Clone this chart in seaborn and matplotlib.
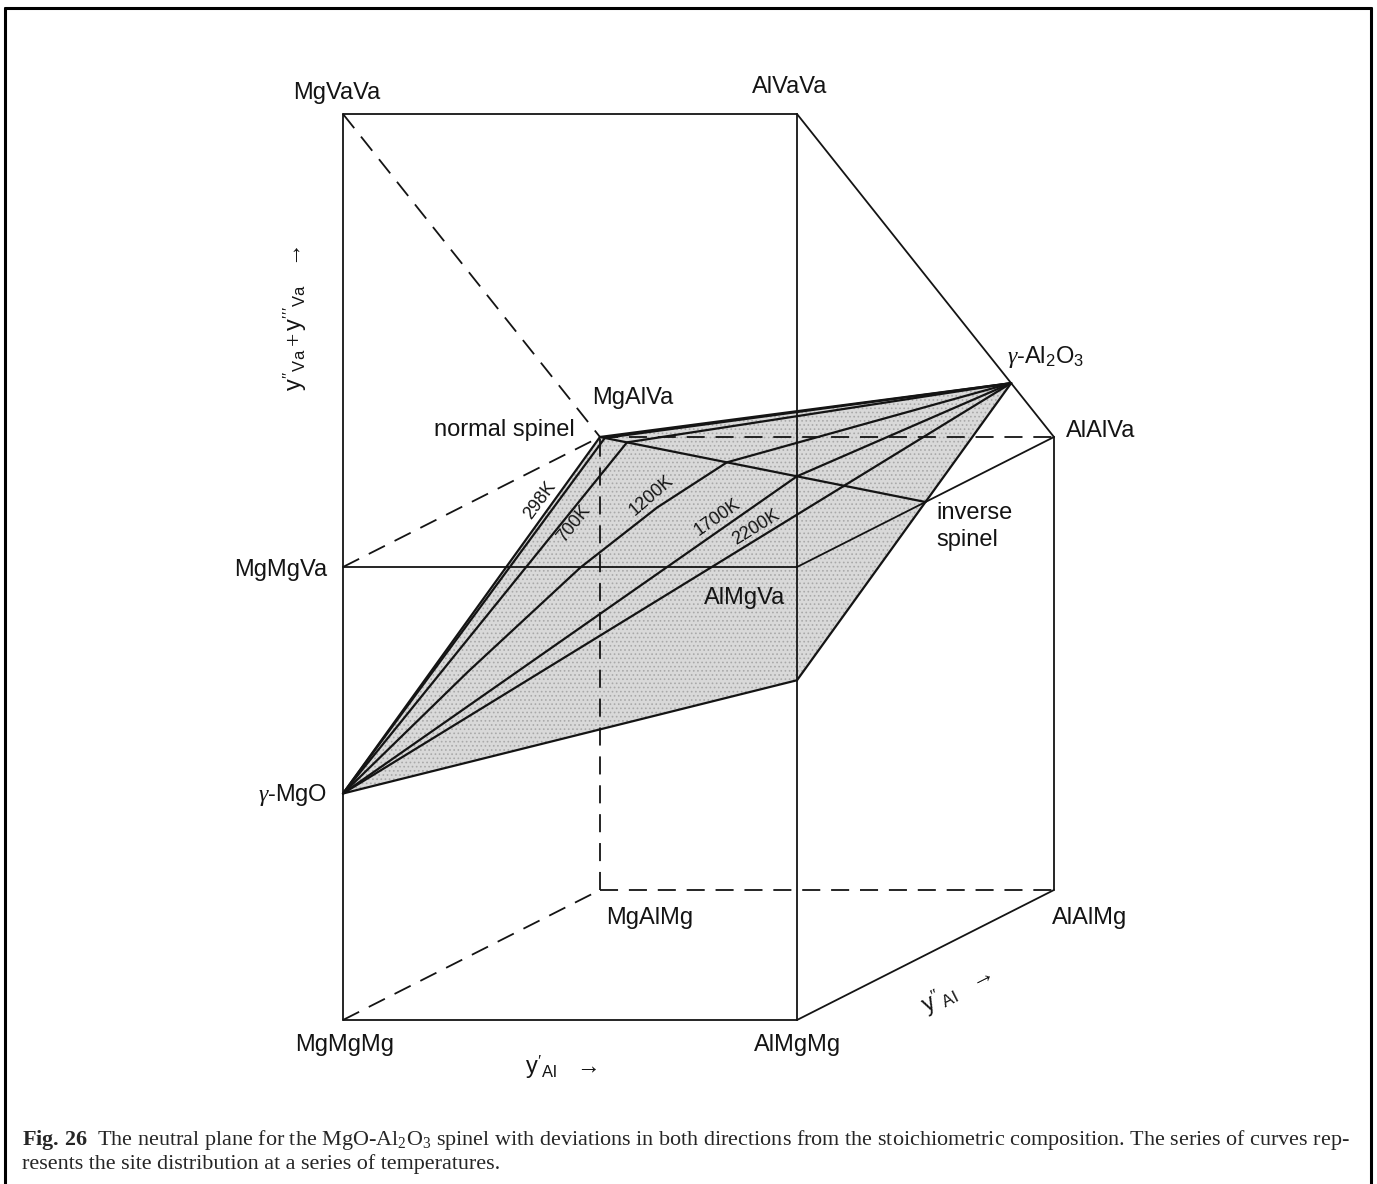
import numpy as np
import pandas as pd
import matplotlib
matplotlib.use("Agg")
import matplotlib.pyplot as plt
from matplotlib.lines import Line2D
import seaborn as sns

sns.set_theme(style="white")
plt.rcParams["font.family"] = ["Liberation Sans", "DejaVu Sans"]
plt.rcParams["mathtext.fontset"] = "custom"
plt.rcParams["mathtext.rm"] = "Liberation Serif"
plt.rcParams["mathtext.it"] = "Liberation Serif:italic"
plt.rcParams["mathtext.bf"] = "Liberation Serif:bold"
plt.rcParams["mathtext.sf"] = "Liberation Sans"
plt.rcParams["hatch.linewidth"] = 0.7

# ---- composition space: (y'_Al, y''_Al, y''_Va + y'''_Va) ----
corner_names = ["MgMgMg", "AlMgMg", "MgAlMg", "AlAlMg",
                "MgMgVa", "AlMgVa", "MgAlVa", "AlAlVa",
                "MgVaVa", "AlVaVa"]
corner_yAl_1 = [0, 1, 0, 1, 0, 1, 0, 1, 0, 1]
corner_yAl_2 = [0, 0, 1, 1, 0, 0, 1, 1, 0, 0]
corner_yVa = [0, 0, 0, 0, 1, 1, 1, 1, 2, 2]

solid_edges = [("MgMgMg", "AlMgMg"), ("MgMgMg", "MgVaVa"), ("AlMgMg", "AlVaVa"),
               ("MgVaVa", "AlVaVa"), ("AlVaVa", "AlAlVa"), ("AlAlVa", "AlAlMg"),
               ("AlMgMg", "AlAlMg"), ("MgMgVa", "AlMgVa"), ("AlMgVa", "AlAlVa")]
dashed_edges = [("MgMgMg", "MgAlMg"), ("MgAlMg", "AlAlMg"), ("MgAlMg", "MgAlVa"),
                ("MgAlVa", "AlAlVa"), ("MgVaVa", "MgAlVa"), ("MgMgVa", "MgAlVa")]

# end members and special compositions on the neutral plane
gamma_MgO = (0.0, 0.0, 0.5)
gamma_Al2O3 = (1.0, 5 / 6, 7 / 6)
plane_front = (1.0, 0.0, 0.75)
normal_spinel = (0.0, 1.0, 1.0)
inverse_spinel = (1.0, 0.5, 1.0)

# site distributions from gamma-MgO up to the stoichiometric spinel (y'_Al, y''_Al),
# then on to gamma-Al2O3
temps = ["298K", "700K", "1200K", "1700K", "2200K"]
path_yAl_1 = {
    "298K": [0.0, 0.015],
    "700K": [0.0, 0.083],
    "1200K": [0.0, 0.10, 0.20, 0.29, 0.39],
    "1700K": [0.0, 0.605],
    "2200K": [0.0, 0.75],
}
path_yAl_2 = {
    "298K": [0.0, 0.9925],
    "700K": [0.0, 0.9585],
    "1200K": [0.0, 0.31, 0.57, 0.71, 0.805],
    "1700K": [0.0, 0.6975],
    "2200K": [0.0, 0.625],
}
label_frac = [0.80, 0.785, 0.84, 0.84, 0.835]
label_off = [15, -10, 13, 12, 11]

# oblique projection of the y''_Al axis
SKEW_X, SKEW_Y = 0.566, 0.287


def proj(p):
    a, b, v = p
    return a + SKEW_X * b, v + SKEW_Y * b


def on_plane(a, b):
    # charge-neutral plane through gamma-MgO, normal spinel and gamma-Al2O3
    return (a, b, 0.5 + 0.25 * a + 0.5 * b)


corners = {n: (a, b, v) for n, a, b, v in zip(corner_names, corner_yAl_1, corner_yAl_2, corner_yVa)}

W, H = 1377, 1184
fig = plt.figure(figsize=(W / 100, H / 100), dpi=100)
ax = fig.add_axes([0, 0, 1, 1])
ax.set_xlim(-343 / 454, (W - 343) / 454)
ax.set_ylim((1020 - H) / 453, 1020 / 453)
ax.axis("off")

LW_EDGE = 1.3
LW_FAN = 1.6
INK = "#141414"

# shaded neutral plane
quad = [proj(p) for p in (gamma_MgO, normal_spinel, gamma_Al2O3, plane_front)]
ax.fill([q[0] for q in quad], [q[1] for q in quad], facecolor="#d9d9d9",
        edgecolor="#a9a9a9", hatch="....", linewidth=0, zorder=1)

for a, b in solid_edges:
    p, q = proj(corners[a]), proj(corners[b])
    ax.plot([p[0], q[0]], [p[1], q[1]], color=INK, lw=LW_EDGE, zorder=3,
            solid_capstyle="round")
for a, b in dashed_edges:
    p, q = proj(corners[a]), proj(corners[b])
    ax.plot([p[0], q[0]], [p[1], q[1]], color=INK, lw=LW_EDGE, zorder=3,
            linestyle=(0, (10, 6)))

# neutral plane boundary and the normal -> inverse spinel line
for p, q in [(gamma_MgO, normal_spinel), (gamma_MgO, plane_front),
             (plane_front, gamma_Al2O3), (normal_spinel, gamma_Al2O3),
             (normal_spinel, inverse_spinel)]:
    P, Q = proj(p), proj(q)
    ax.plot([P[0], Q[0]], [P[1], Q[1]], color=INK, lw=LW_FAN, zorder=4)

# site-distribution curves
rows = []
for T in temps:
    pts = [on_plane(a, b) for a, b in zip(path_yAl_1[T], path_yAl_2[T])] + [gamma_Al2O3]
    for k, pt in enumerate(pts):
        X, Y = proj(pt)
        rows.append({"T": T, "step": k, "X": X, "Y": Y})
curves = pd.DataFrame(rows)
sns.lineplot(data=curves, x="X", y="Y", units="T", estimator=None, sort=False,
             color=INK, lw=LW_FAN, legend=False, ax=ax, zorder=4)

# temperature labels alongside the lower branch of each curve
for T, t, off in zip(temps, label_frac, label_off):
    seg = curves[curves["T"] == T].iloc[:len(path_yAl_1[T])]
    P = ax.transData.transform(seg[["X", "Y"]].to_numpy())
    lens = np.hypot(*np.diff(P, axis=0).T)
    cum = np.concatenate([[0], np.cumsum(lens)])
    s = t * cum[-1]
    j = min(max(np.searchsorted(cum, s) - 1, 0), len(lens) - 1)
    d = P[j + 1] - P[j]
    u = d / np.hypot(*d)
    n = np.array([-u[1], u[0]])
    base = P[j] + u * (s - cum[j])
    pos = ax.transData.inverted().transform(base + n * off)
    chord = P[-1] - P[0]
    ang = np.degrees(np.arctan2(chord[1], chord[0]))
    ax.text(pos[0], pos[1], T, rotation=ang, rotation_mode="anchor",
            ha="center", va="center", fontsize=13, color=INK, zorder=5)

LBL = dict(fontsize=17, color=INK, zorder=6)


def label(point, text, dx, dy, ha="center", va="center", **kw):
    ax.annotate(text, xy=proj(point), xytext=(dx, dy), textcoords="offset pixels",
                ha=ha, va=va, **{**LBL, **kw})


label(corners["MgVaVa"], "MgVaVa", -6, 21)
label(corners["AlVaVa"], "AlVaVa", -7, 27)
label(gamma_Al2O3, r"$\gamma$-Al$_\mathsf{2}$O$_\mathsf{3}$", -4, 26, ha="left")
label(corners["AlAlVa"], "AlAlVa", 12, 6, ha="left")
label(corners["MgAlVa"], "MgAlVa", 33, 39)
label(normal_spinel, "normal spinel", -25, 7, ha="right")
label(inverse_spinel, "inverse\nspinel", 11, 0, ha="left", va="top", linespacing=1.3)
label(corners["MgMgVa"], "MgMgVa", -16, -3, ha="right")
label(corners["AlMgVa"], "AlMgVa", -52, -31)
label(gamma_MgO, r"$\gamma$-MgO", -16, -2, ha="right")
label(corners["MgAlMg"], "MgAlMg", 50, -28)
label(corners["AlAlMg"], "AlAlMg", 36, -28)
label(corners["MgMgMg"], "MgMgMg", 2, -25)
label(corners["AlMgMg"], "AlMgMg", 1, -25)

# axis captions
label((0.5, 0, 0), r"$\mathsf{y}'_{\mathsf{Al}}$   →", -9, -48)
label((1, 0.5, 0), r"$\mathsf{y}''_{\mathsf{Al}}$   →", 32, -36, rotation=26.8)
label((0, 0, 1.5), r"$\mathsf{y}''_{\mathsf{Va}}+\mathsf{y}'''_{\mathsf{Va}}$   →",
      -47, 22, rotation=90)

# figure frame
for xs, ys in [([5, 5], [8, H]), ([5, 1371], [8, 8]), ([1371, 1371], [8, H])]:
    fig.add_artist(Line2D([x / W for x in xs], [1 - y / H for y in ys],
                          transform=fig.transFigure, color="black", lw=2.2))

# caption
cap1 = (r"$\mathbf{Fig.\,26}$  The neutral plane for the MgO-Al$_2$O$_3$ spinel with deviations "
        r"in both directions from the stoichiometric composition. The series of curves rep-")
cap2 = "resents the site distribution at a series of temperatures."
t1 = fig.text(22 / W, 1 - 1145 / H, cap1, family="Liberation Serif", fontsize=15,
              ha="left", va="baseline")
fig.canvas.draw()
w1 = t1.get_window_extent(fig.canvas.get_renderer()).width
fs = 15 * (1333 / w1)
t1.set_fontsize(fs)
fig.text(22 / W, 1 - 1169 / H, cap2, family="Liberation Serif", fontsize=fs,
         ha="left", va="baseline")

fig.savefig("out.png", dpi=100, facecolor="white")
